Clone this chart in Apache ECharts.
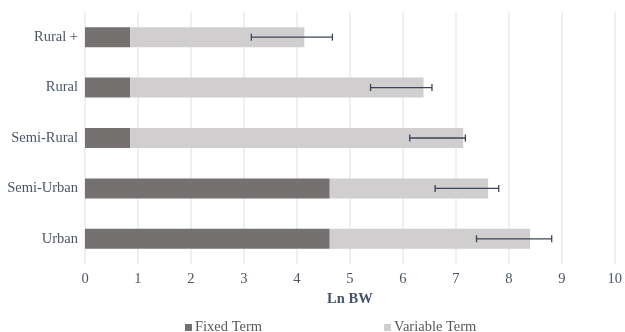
<!DOCTYPE html>
<html>
<head>
<meta charset="utf-8">
<script src="https://cdn.jsdelivr.net/npm/echarts@6/dist/echarts.min.js"></script>
<style>html,body{margin:0;padding:0;background:#fff;}#c{width:625px;height:332px;}</style>
</head>
<body>
<div id="c"></div>
<script>
const categories = ['Urban', 'Semi-Urban', 'Semi-Rural', 'Rural', 'Rural +'];
const fixedTerm = [4.62, 4.62, 0.85, 0.85, 0.85];
const variableTerm = [3.78, 2.99, 6.29, 5.54, 3.29];
const errLow = [7.39, 6.61, 6.13, 5.39, 3.14];
const errHigh = [8.81, 7.81, 7.18, 6.55, 4.67];
const xTicks = [0, 10, 1];

const textColor = '#4b5566';
const font = '"Liberation Serif", "Times New Roman", serif';

const errData = categories.map((c, i) => [i, errLow[i], errHigh[i]]);

const chart = echarts.init(document.getElementById('c'));
chart.setOption({
  animation: false,
  textStyle: { fontFamily: font },
  grid: { left: 85, right: 10, top: 12, bottom: 68, containLabel: false },
  legend: {
    left: 180, top: 315, itemWidth: 7, itemHeight: 7, itemGap: 122,
    icon: 'rect',
    textStyle: { fontFamily: font, fontSize: 14.5, color: '#595959', padding: [0, 0, 0, -2] },
    data: ['Fixed Term', 'Variable Term']
  },
  xAxis: {
    type: 'value', min: xTicks[0], max: xTicks[1], interval: xTicks[2],
    name: 'Ln BW', nameLocation: 'middle', nameGap: 28,
    nameTextStyle: { fontFamily: font, fontSize: 14.5, fontWeight: 'bold', color: '#44546a' },
    axisLine: { show: false }, axisTick: { show: false },
    axisLabel: { fontFamily: font, fontSize: 14.5, color: textColor, margin: 8 },
    splitLine: { show: true, lineStyle: { color: '#e6eaef', width: 1.5 } }
  },
  yAxis: {
    type: 'category', data: categories,
    axisLine: { show: false }, axisTick: { show: false },
    axisLabel: { fontFamily: font, fontSize: 14.5, color: textColor, margin: 7 }
  },
  series: [
    { name: 'Fixed Term', type: 'bar', stack: 'total', barWidth: 20, data: fixedTerm,
      itemStyle: { color: '#767171' } },
    { name: 'Variable Term', type: 'bar', stack: 'total', barWidth: 20, data: variableTerm,
      itemStyle: { color: '#d0cece' } },
    { name: 'err', type: 'custom', data: errData, z: 10,
      encode: { y: 0, x: [1, 2] },
      renderItem: function (params, api) {
        const cat = api.value(0);
        const p1 = api.coord([api.value(1), cat]);
        const p2 = api.coord([api.value(2), cat]);
        const h = 3.5;
        const style = { stroke: '#3a4454', lineWidth: 1.3 };
        return { type: 'group', children: [
          { type: 'line', shape: { x1: p1[0], y1: p1[1], x2: p2[0], y2: p2[1] }, style: style },
          { type: 'line', shape: { x1: p1[0], y1: p1[1] - h, x2: p1[0], y2: p1[1] + h }, style: style },
          { type: 'line', shape: { x1: p2[0], y1: p2[1] - h, x2: p2[0], y2: p2[1] + h }, style: style }
        ]};
      }
    }
  ]
});
</script>
</body>
</html>
